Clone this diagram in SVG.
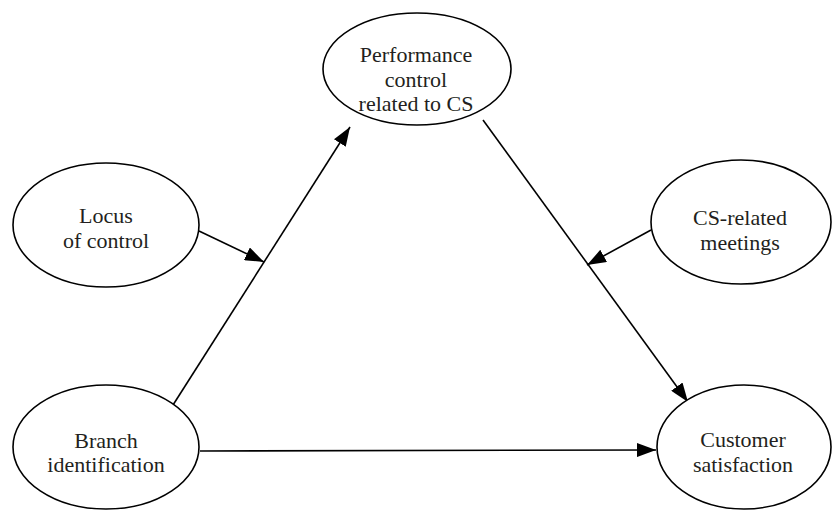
<svg xmlns="http://www.w3.org/2000/svg" width="832" height="513" viewBox="0 0 832 513">
<style>
.n{fill:#fff;stroke:#000;stroke-width:1.6}
.t{font-family:"Liberation Serif","Times New Roman",serif;font-size:22px;fill:#231f20;text-anchor:middle}
.c{stroke:#000;stroke-width:1.6;fill:none;marker-end:url(#ah)}
</style>
<defs>
<marker id="ah" viewBox="0 0 19 14" refX="19" refY="7" markerWidth="19" markerHeight="14" markerUnits="userSpaceOnUse" orient="auto">
<path d="M0,0 L19,7 L0,14 Z" fill="#000"/>
</marker>
</defs>
<rect width="832" height="513" fill="#fff"/>
<g id="connectors">
<line class="c" x1="173" y1="405" x2="350" y2="127"/>
<line class="c" x1="483" y1="120" x2="688" y2="402"/>
<line class="c" x1="200" y1="451" x2="656" y2="450"/>
<line class="c" x1="199" y1="231" x2="264" y2="262"/>
<line class="c" x1="651" y1="230" x2="587" y2="265"/>
</g>
<g id="performance">
<ellipse class="n" cx="417" cy="69" rx="94" ry="56"/>
<text class="t" x="416" y="62">Performance</text>
<text class="t" x="416" y="87">control</text>
<text class="t" x="416" y="111">related to CS</text>
</g>
<g id="locus">
<ellipse class="n" cx="106" cy="225" rx="93" ry="62"/>
<text class="t" x="106" y="223">Locus</text>
<text class="t" x="106" y="248">of control</text>
</g>
<g id="csmeetings">
<ellipse class="n" cx="741" cy="222" rx="90" ry="62"/>
<text class="t" x="740" y="225">CS-related</text>
<text class="t" x="740" y="250">meetings</text>
</g>
<g id="branch">
<ellipse class="n" cx="106" cy="447" rx="93" ry="62"/>
<text class="t" x="106" y="448">Branch</text>
<text class="t" x="106" y="472">identification</text>
</g>
<g id="customer">
<ellipse class="n" cx="744" cy="447" rx="87" ry="62"/>
<text class="t" x="743" y="447">Customer</text>
<text class="t" x="743" y="472">satisfaction</text>
</g>
</svg>
